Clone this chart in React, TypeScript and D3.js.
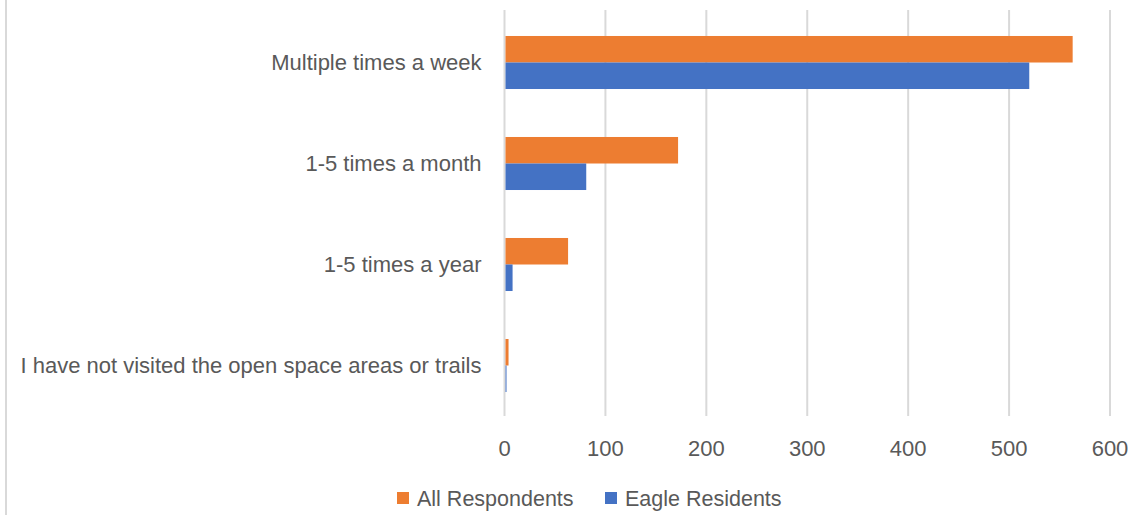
import React, { useEffect, useRef } from 'react';
import * as d3 from 'd3';

// Visit frequency categories, top to bottom
const categories: string[] = [
    'Multiple times a week',
    '1-5 times a month',
    '1-5 times a year',
    'I have not visited the open space areas or trails'
];
const allRespondents: number[] = [563, 172, 63, 4];
const eagleResidents: number[] = [520, 81, 8, 2];
const xTicks: number[] = [0, 100, 200, 300, 400, 500, 600];

const seriesNames = ['All Respondents', 'Eagle Residents'];
const seriesColors = ['#ED7D31', '#4472C4'];

const App: React.FC = () => {
    const ref = useRef<SVGSVGElement>(null);

    useEffect(() => {
        const width = 1137;
        const height = 515;
        const marginTop = 12;
        const marginBottom = 99;
        const marginLeft = 504.5;
        const marginRight = 27;
        const font = 'Liberation Sans, Arial, sans-serif';
        const textColor = '#595959';

        const svg = d3.select(ref.current!);
        svg.selectAll('*').remove();

        const x = d3.scaleLinear().domain([0, 600]).range([marginLeft, width - marginRight]);
        const y = d3
            .scaleBand<string>()
            .domain(categories)
            .range([marginTop, height - marginBottom])
            .paddingInner(0.475)
            .paddingOuter(0.2375);
        const inner = d3.scaleBand<number>().domain([0, 1]).range([0, y.bandwidth()]);

        // left frame edge
        svg.append('line')
            .attr('x1', 6)
            .attr('x2', 6)
            .attr('y1', 0)
            .attr('y2', height)
            .attr('stroke', '#d9d9d9')
            .attr('stroke-width', 2);

        // gridlines
        svg.append('g')
            .selectAll('line')
            .data(xTicks)
            .join('line')
            .attr('x1', (d) => x(d))
            .attr('x2', (d) => x(d))
            .attr('y1', marginTop - 2)
            .attr('y2', height - marginBottom)
            .attr('stroke', '#d9d9d9')
            .attr('stroke-width', 2);

        // bars
        const rows = categories.map((c, i) => ({ c, vals: [allRespondents[i], eagleResidents[i]] }));
        svg.append('g')
            .selectAll('g')
            .data(rows)
            .join('g')
            .attr('transform', (d) => `translate(0,${y(d.c)})`)
            .selectAll('rect')
            .data((d) => d.vals.map((v, s) => ({ v, s })))
            .join('rect')
            .attr('x', x(0) + 1)
            .attr('y', (d) => inner(d.s)!)
            .attr('width', (d) => x(d.v) - x(0) - 1)
            .attr('height', inner.bandwidth())
            .attr('fill', (d) => seriesColors[d.s]);

        // category labels
        svg.append('g')
            .selectAll('text')
            .data(categories)
            .join('text')
            .attr('x', marginLeft - 23)
            .attr('y', (d) => y(d)! + y.bandwidth() / 2)
            .attr('dy', '0.35em')
            .attr('text-anchor', 'end')
            .attr('font-family', font)
            .attr('font-size', 22)
            .attr('fill', textColor)
            .text((d) => d);

        // x tick labels
        svg.append('g')
            .selectAll('text')
            .data(xTicks)
            .join('text')
            .attr('x', (d) => x(d))
            .attr('y', 448)
            .attr('dy', '0.35em')
            .attr('text-anchor', 'middle')
            .attr('font-family', font)
            .attr('font-size', 22)
            .attr('fill', textColor)
            .text((d) => d);

        // legend
        const legendX = [397, 605];
        const legend = svg.append('g')
            .selectAll('g')
            .data(seriesNames)
            .join('g')
            .attr('transform', (_, i) => `translate(${legendX[i]},498)`);
        legend.append('rect')
            .attr('x', 0)
            .attr('y', -6)
            .attr('width', 12)
            .attr('height', 12)
            .attr('fill', (_, i) => seriesColors[i]);
        legend.append('text')
            .attr('x', 20)
            .attr('y', 0)
            .attr('dy', '0.35em')
            .attr('font-family', font)
            .attr('font-size', 21.5)
            .attr('fill', textColor)
            .text((d) => d);
    }, []);

    return (
        <svg
            ref={ref}
            width={1137}
            height={515}
            style={{ position: 'absolute', left: 0, top: 0, background: 'white' }}
        />
    );
};

export default App;
